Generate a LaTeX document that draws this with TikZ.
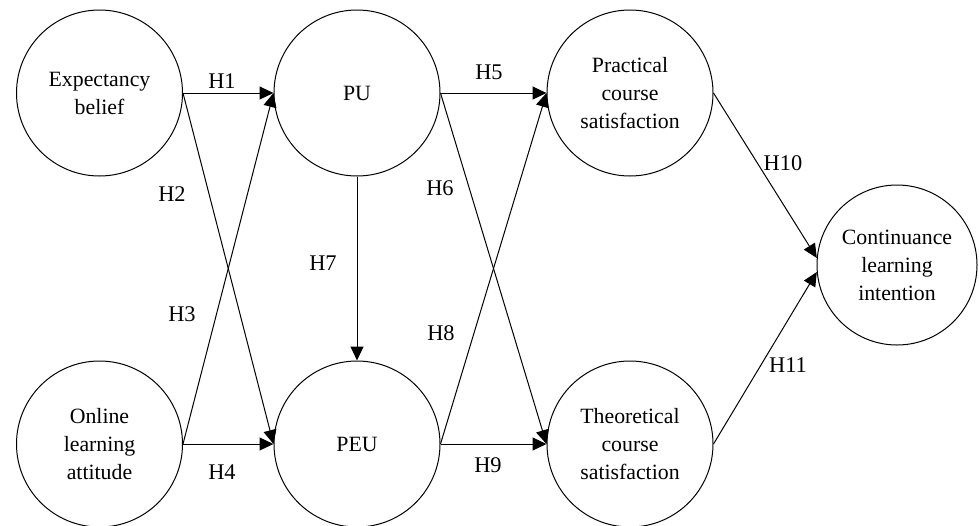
\documentclass[tikz,border=0pt]{standalone}
\usepackage{fontspec}
\setmainfont{Liberation Serif}
\usetikzlibrary{arrows.meta}
\begin{document}
\begin{tikzpicture}[x=0.5pt,y=-0.5pt,
  construct/.style={draw,circle,line width=0.5pt,minimum size=83pt,inner sep=0pt,align=center,font=\fontsize{10.9}{14}\selectfont},
  hyp/.style={font=\fontsize{11.2}{12}\selectfont,inner sep=0pt},
  link/.style={line width=0.5pt,-{Triangle[length=7pt,width=6.5pt]}}]
\useasboundingbox (0,0) rectangle (979,525);
\node[construct] (EB) at (99.5,93) {Expectancy\\belief};
\node[construct] (PU) at (357,93) {PU};
\node[construct] (PCS) at (630,93) {Practical\\course\\satisfaction};
\node[construct] (OLA) at (99.5,444) {Online\\learning\\attitude};
\node[construct] (PEU) at (357,444) {PEU};
\node[construct] (TCS) at (630,444) {Theoretical\\course\\satisfaction};
\node[construct,minimum size=80pt] (CLI) at (897,265) {Continuance\\learning\\intention};
\draw[link] (EB.east) -- (PU.west);
\draw[link] (EB.east) -- (PEU.west);
\draw[link] (OLA.east) -- (PU.west);
\draw[link] (OLA.east) -- (PEU.west);
\draw[link] (PU.south) -- (PEU.north);
\draw[link] (PU.east) -- (PCS.west);
\draw[link] (PU.east) -- (TCS.west);
\draw[link] (PEU.east) -- (PCS.west);
\draw[link] (PEU.east) -- (TCS.west);
\draw[link] (PCS.east) -- (CLI.175);
\draw[link] (TCS.east) -- (CLI.185);
\node[hyp] (h1) at (222,81) {H1};
\node[hyp] (h2) at (172,194) {H2};
\node[hyp] (h3) at (182,314) {H3};
\node[hyp] (h4) at (222,472) {H4};
\node[hyp] (h5) at (489,72) {H5};
\node[hyp] (h6) at (440,188) {H6};
\node[hyp] (h7) at (323,263) {H7};
\node[hyp] (h8) at (441,333) {H8};
\node[hyp] (h9) at (488,465) {H9};
\node[hyp] (h10) at (783,163) {H10};
\node[hyp] (h11) at (788,365) {H11};
\end{tikzpicture}
\end{document}
